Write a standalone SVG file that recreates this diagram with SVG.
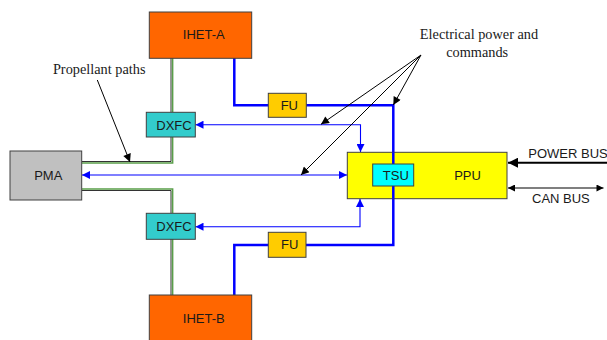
<svg xmlns="http://www.w3.org/2000/svg" width="607" height="340" viewBox="0 0 607 340">
<defs>
<style>
.box{stroke:#404040;stroke-width:1}
.lbl{font-family:"Liberation Sans",Arial,sans-serif;font-size:13px;fill:#1a1a1a;text-anchor:middle}
.note{font-family:"Liberation Serif","Times New Roman",serif;font-size:14.3px;fill:#1a1a1a;text-anchor:middle}
.bus{font-family:"Liberation Sans",Arial,sans-serif;font-size:13px;fill:#1a1a1a}
.dk{fill:none;stroke:#333;stroke-width:1}
.gr{fill:none;stroke:#5a9e4a;stroke-width:1.6}
.pw{fill:none;stroke:#0000ff;stroke-width:2.5}
.sg{fill:none;stroke:#0000ff;stroke-width:1.1}
.an{fill:none;stroke:#000;stroke-width:1}
</style>
<marker id="ab" viewBox="0 0 10 10" refX="10" refY="5" markerUnits="userSpaceOnUse" markerWidth="9" markerHeight="8" orient="auto-start-reverse"><path d="M0,0 L10,5 L0,10 z" fill="#0000ff"/></marker>
<marker id="ak" viewBox="0 0 10 10" refX="10" refY="5" markerUnits="userSpaceOnUse" markerWidth="10" markerHeight="8" orient="auto-start-reverse"><path d="M0,0 L10,5 L0,10 z" fill="#000"/></marker>
<marker id="akb" viewBox="0 0 10 10" refX="10" refY="5" markerUnits="userSpaceOnUse" markerWidth="14" markerHeight="10" orient="auto-start-reverse"><path d="M0,0 L10,5 L0,10 z" fill="#000"/></marker>
<marker id="akm" viewBox="0 0 10 10" refX="10" refY="5" markerUnits="userSpaceOnUse" markerWidth="12" markerHeight="7" orient="auto-start-reverse"><path d="M0,0 L10,5 L0,10 z" fill="#000"/></marker>
</defs>
<rect width="607" height="340" fill="#fff"/>
<g id="connectors">
<path class="dk" d="M82,161.5 H171 V137"/>
<path class="gr" d="M82,163 H172.6 V137"/>
<path class="dk" d="M171,112 V58"/>
<path class="gr" d="M172.6,112 V58"/>
<path class="dk" d="M82,190.5 H171 V213"/>
<path class="gr" d="M82,189 H172.6 V213"/>
<path class="dk" d="M171,239 V295"/>
<path class="gr" d="M172.6,239 V295"/>
<path class="pw" d="M234.3,58 V105.3 H268.5"/>
<path class="pw" d="M306.3,105.3 H393.3 V164"/>
<path class="pw" d="M393.3,186 V231.5 M393.3,199 V245 H306"/>
<path class="pw" d="M268.5,245 H234.3 V295"/>
<path class="sg" d="M195.5,124.7 H360.5 V152" marker-start="url(#ab)" marker-end="url(#ab)"/>
<path class="sg" d="M82,175 H347" marker-start="url(#ab)" marker-end="url(#ab)"/>
<path class="sg" d="M195.5,226.7 H360 V199" marker-start="url(#ab)" marker-end="url(#ab)"/>
<path class="an" d="M97.3,80 L130,162" marker-end="url(#ak)"/>
<path class="an" d="M421,55 L393.3,105" marker-end="url(#ak)"/>
<path class="an" d="M421,55 L321,124.3" marker-end="url(#ak)"/>
<path class="an" d="M421,55 L301,175" marker-end="url(#ak)"/>
<path fill="none" stroke="#000" stroke-width="2" d="M607,162.7 H508" marker-end="url(#akb)"/>
<path fill="none" stroke="#000" stroke-width="1.2" d="M508,188 H603.5" marker-start="url(#akm)" marker-end="url(#akm)"/>
</g>
<g id="ihet-a"><rect class="box" x="149.3" y="12" width="102.4" height="46.3" fill="#ff6600"/><text class="lbl" x="203.8" y="39">IHET-A</text></g>
<g id="ihet-b"><rect class="box" x="149.3" y="295" width="102.4" height="46" fill="#ff6600"/><text class="lbl" x="203.8" y="323.3">IHET-B</text></g>
<g id="dxfc-a"><rect class="box" x="146.3" y="112.3" width="49" height="24.7" fill="#33cccc"/><text class="lbl" x="174" y="129.5">DXFC</text></g>
<g id="dxfc-b"><rect class="box" x="146.3" y="213.3" width="49" height="26" fill="#33cccc"/><text class="lbl" x="174" y="231">DXFC</text></g>
<g id="pma"><rect class="box" x="10" y="151" width="71.7" height="49" fill="#c0c0c0"/><text class="lbl" x="48.3" y="179.5">PMA</text></g>
<g id="fu-a"><rect class="box" x="268.3" y="93.3" width="38" height="24" fill="#ffcc00"/><text class="lbl" x="289.3" y="109.8">FU</text></g>
<g id="fu-b"><rect class="box" x="268.3" y="232.3" width="37.7" height="25" fill="#ffcc00"/><text class="lbl" x="289.7" y="249.3">FU</text></g>
<g id="ppu"><rect class="box" x="347.3" y="152.3" width="159.7" height="46.4" fill="#ffff00"/><text class="lbl" x="467.5" y="179.5">PPU</text></g>
<path class="pw" d="M393.3,152.3 V164 M393.3,186 V198.7"/>
<g id="tsu"><rect class="box" x="372.7" y="164" width="41" height="22" fill="#00ffff"/><text class="lbl" x="395.8" y="179.5">TSU</text></g>
<g id="notes">
<text class="note" x="99.2" y="74">Propellant paths</text>
<text class="note" x="479" y="39.3">Electrical power and</text>
<text class="note" x="477.2" y="56.7">commands</text>
<text class="bus" x="528.3" y="158">POWER BUS</text>
<text class="bus" x="532" y="202.7">CAN BUS</text>
</g>
</svg>
